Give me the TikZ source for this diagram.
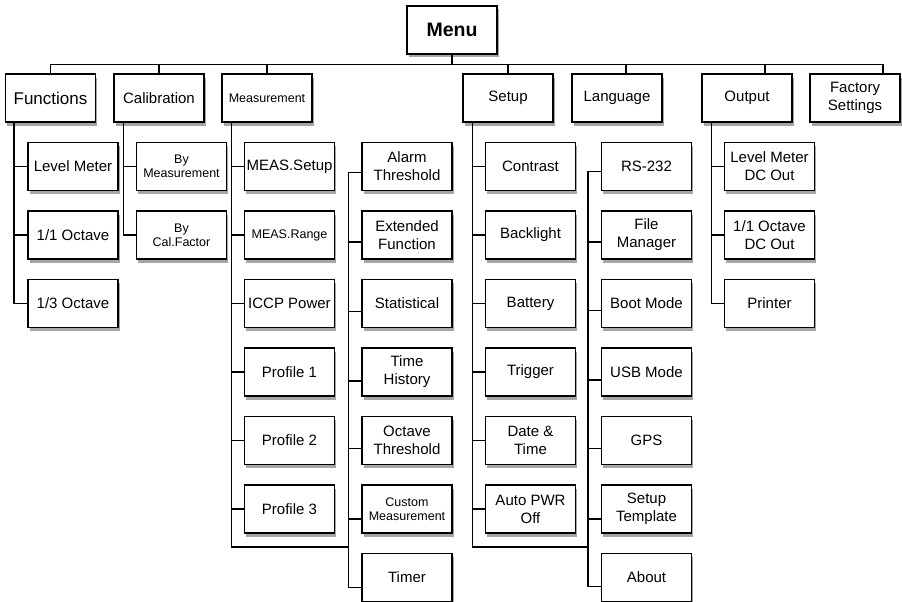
\documentclass[tikz,border=0pt]{standalone}
\usepackage{fontspec}
\setmainfont{Liberation Sans}
\usetikzlibrary{shadows}

\begin{document}
\begin{tikzpicture}[x=1pt, y=1pt, line width=1.6pt, node distance=68.5pt,
  block/.style={draw, fill=white, line width=1.4pt, minimum width=90pt, minimum height=48pt, inner sep=2pt, align=center, font=\fontsize{15}{18}\selectfont, drop shadow={shadow xshift=1.5pt, shadow yshift=-3.5pt, fill=black!35, opacity=1}},
  smalltext/.style={font=\fontsize{12.5}{14}\selectfont},]
  \useasboundingbox (0,0) rectangle (902,-602);
  % top level
  \node[block, font=\bfseries\fontsize{19.5}{22}\selectfont] (menu) at (452,-30) {Menu};
  \node[block, font=\fontsize{17}{20}\selectfont] (func) at (50.5,-98) {Functions};
  \node[block] (calib) at (159,-98) {Calibration};
  \node[block, smalltext] (meas) at (267,-98) {Measurement};
  \node[block] (setup) at (508,-98) {Setup};
  \node[block] (lang) at (617,-98) {Language};
  \node[block] (output) at (747,-98) {Output};
  \node[block] (factory) at (855,-98) {Factory\\Settings};
  % Functions
  \node[block, below of=func, xshift=22.5pt] (lvl) {Level Meter};
  \node[block, below of=lvl] (oct1) {1/1 Octave};
  \node[block, below of=oct1] (oct3) {1/3 Octave};
  % Calibration
  \node[block, smalltext, below of=calib, xshift=22.5pt] (bymeas) {By\\Measurement};
  \node[block, smalltext, below of=bymeas] (byfac) {By\\Cal.Factor};
  % Measurement
  \node[block, below of=meas, xshift=22.5pt] (msetup) {MEAS.Setup};
  \node[block, smalltext, below of=msetup] (mrange) {MEAS.Range};
  \node[block, below of=mrange] (iccp) {ICCP Power};
  \node[block, below of=iccp] (prof1) {Profile 1};
  \node[block, below of=prof1] (prof2) {Profile 2};
  \node[block, below of=prof2] (prof3) {Profile 3};
  \node[block, right of=msetup, node distance=117.5pt] (alarm) {Alarm\\Threshold};
  \node[block, below of=alarm] (extfn) {Extended\\Function};
  \node[block, below of=extfn] (stat) {Statistical};
  \node[block, below of=stat] (thist) {Time\\History};
  \node[block, below of=thist] (octth) {Octave\\Threshold};
  \node[block, smalltext, below of=octth] (custom) {Custom\\Measurement};
  \node[block, below of=custom] (timer) {Timer};
  % Setup
  \node[block, below of=setup, xshift=22.5pt] (contrast) {Contrast};
  \node[block, below of=contrast] (backlight) {Backlight};
  \node[block, below of=backlight] (battery) {Battery};
  \node[block, below of=battery] (trigger) {Trigger};
  \node[block, below of=trigger] (datetime) {Date \&\\Time};
  \node[block, below of=datetime] (autopwr) {Auto PWR\\Off};
  \node[block, right of=contrast, node distance=116pt] (rs) {RS-232};
  \node[block, below of=rs] (filemgr) {File\\Manager};
  \node[block, below of=filemgr] (boot) {Boot Mode};
  \node[block, below of=boot] (usb) {USB Mode};
  \node[block, below of=usb] (gps) {GPS};
  \node[block, below of=gps] (template) {Setup\\Template};
  \node[block, below of=template] (about) {About};
  % Output
  \node[block, below of=output, xshift=22.5pt] (lmdc) {Level Meter\\DC Out};
  \node[block, below of=lmdc] (octdc) {1/1 Octave\\DC Out};
  \node[block, below of=octdc] (printer) {Printer};

  % bus
  \draw (menu.south) -- ++(0,-10) -| (func.north);
  \draw (menu.south) -- ++(0,-10) -| (calib.north);
  \draw (menu.south) -- ++(0,-10) -| (meas.north);
  \draw (menu.south) -- ++(0,-10) -| (setup.north);
  \draw (menu.south) -- ++(0,-10) -| ([xshift=9pt]lang.north);
  \draw (menu.south) -- ++(0,-10) -| ([xshift=18pt]output.north);
  \draw (menu.south) -- ++(0,-10) -| ([xshift=28pt]factory.north);
  % columns
  \draw ([xshift=9pt]func.south west) |- (lvl.west);
  \draw ([xshift=9pt]func.south west) |- (oct1.west);
  \draw ([xshift=9pt]func.south west) |- (oct3.west);
  \draw ([xshift=10pt]calib.south west) |- (bymeas.west);
  \draw ([xshift=10pt]calib.south west) |- (byfac.west);
  \draw ([xshift=10pt]meas.south west) |- (msetup.west);
  \draw ([xshift=10pt]meas.south west) |- (mrange.west);
  \draw ([xshift=10pt]meas.south west) |- (iccp.west);
  \draw ([xshift=10pt]meas.south west) |- (prof1.west);
  \draw ([xshift=10pt]meas.south west) |- (prof2.west);
  \draw ([xshift=10pt]meas.south west) |- (prof3.west);
  \draw ([xshift=10pt]meas.south west) |- ([yshift=-13pt]prof3.south) -| ([xshift=-13pt,yshift=-6pt]alarm.west) -- ([yshift=-6pt]alarm.west);
  \draw ([xshift=-13pt,yshift=-6pt]alarm.west) |- ([yshift=-10pt]timer.west);
  \draw ([xshift=-13pt,yshift=-7pt]extfn.west) -- ([yshift=-7pt]extfn.west);
  \draw ([xshift=-13pt,yshift=-8pt]stat.west) -- ([yshift=-8pt]stat.west);
  \draw ([xshift=-13pt,yshift=-9pt]thist.west) -- ([yshift=-9pt]thist.west);
  \draw ([xshift=-13pt,yshift=-8pt]octth.west) -- ([yshift=-8pt]octth.west);
  \draw ([xshift=-13pt,yshift=-10pt]custom.west) -- ([yshift=-10pt]custom.west);
  \draw ([xshift=10pt]setup.south west) |- (contrast.west);
  \draw ([xshift=10pt]setup.south west) |- (backlight.west);
  \draw ([xshift=10pt]setup.south west) |- (battery.west);
  \draw ([xshift=10pt]setup.south west) |- (trigger.west);
  \draw ([xshift=10pt]setup.south west) |- (datetime.west);
  \draw ([xshift=10pt]setup.south west) |- (autopwr.west);
  \draw ([xshift=10pt]setup.south west) |- ([yshift=-13pt]autopwr.south) -| ([xshift=-13pt,yshift=-5pt]rs.west) -- ([yshift=-5pt]rs.west);
  \draw ([xshift=-13pt,yshift=-5pt]rs.west) |- ([yshift=-9pt]about.west);
  \draw ([xshift=-13pt,yshift=-7pt]filemgr.west) -- ([yshift=-7pt]filemgr.west);
  \draw ([xshift=-13pt,yshift=-7pt]boot.west) -- ([yshift=-7pt]boot.west);
  \draw ([xshift=-13pt,yshift=-8pt]usb.west) -- ([yshift=-8pt]usb.west);
  \draw ([xshift=-13pt,yshift=-8pt]gps.west) -- ([yshift=-8pt]gps.west);
  \draw ([xshift=-13pt,yshift=-10pt]template.west) -- ([yshift=-10pt]template.west);
  \draw ([xshift=10pt]output.south west) |- (lmdc.west);
  \draw ([xshift=10pt]output.south west) |- (octdc.west);
  \draw ([xshift=10pt]output.south west) |- (printer.west);
\end{tikzpicture}
\end{document}
